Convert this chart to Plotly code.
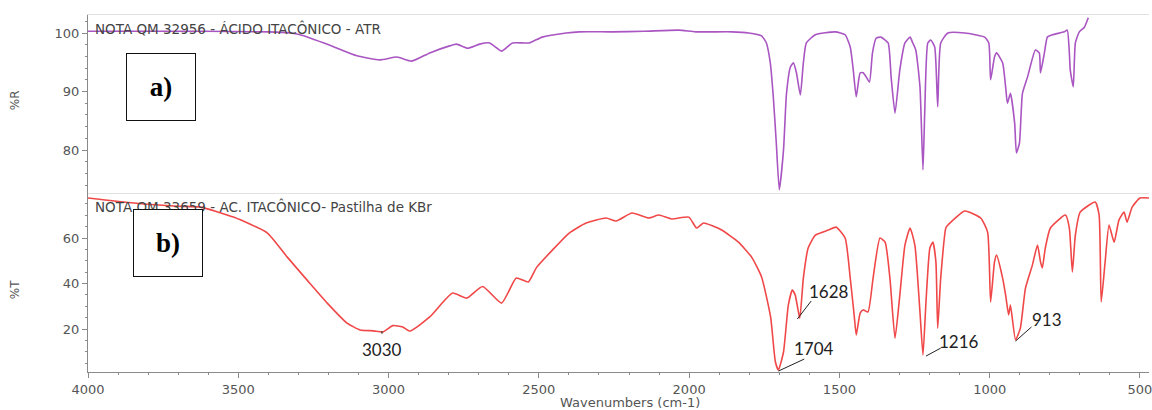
import plotly.graph_objects as go
from plotly.subplots import make_subplots

# ---- data: ATR spectrum (top, %R) ----
atr_wn = [4000, 3800, 3625, 3400, 3327, 3294, 3195, 3105, 3029, 2972, 2923, 2863, 2797, 2774, 2737,
          2697, 2664, 2624, 2588, 2532, 2489, 2409, 2366, 2257, 2150, 2034, 1978, 1859, 1802, 1759,
          1743, 1730, 1720, 1710, 1700, 1686, 1676, 1663, 1653, 1643, 1630, 1620, 1610, 1580, 1514,
          1481, 1464, 1454, 1444, 1431, 1421, 1411, 1400, 1390, 1378, 1362, 1338, 1328, 1315, 1299,
          1282, 1265, 1256, 1246, 1232, 1222, 1216, 1206, 1196, 1183, 1173, 1163, 1139, 1083, 1017,
          1003, 997, 984, 977, 957, 947, 941, 931, 917, 911, 901, 891, 874, 848, 835,
          831, 818, 808, 791, 752, 742, 735, 732, 722, 715, 702, 685, 672]
atr_r = [100.3, 100.3, 100.3, 100.2, 100.0, 99.7, 97.9, 96.1, 95.4, 95.9, 95.2, 96.6, 97.8, 98.1, 97.4,
         98.1, 98.3, 96.9, 98.3, 98.3, 99.3, 100.0, 100.2, 100.2, 100.3, 100.5, 100.2, 100.2, 100.0, 99.5,
         98.3, 94.9, 89.1, 81.2, 73.2, 80.0, 89.7, 94.2, 94.9, 93.2, 89.4, 94.9, 98.3, 99.7, 100.2,
         99.7, 97.6, 93.7, 89.1, 93.2, 93.2, 92.5, 91.6, 96.6, 99.1, 99.3, 98.3, 92.5, 86.3, 93.7,
         98.3, 99.3, 98.3, 97.1, 90.8, 76.6, 86.8, 98.3, 98.8, 97.6, 87.4, 98.3, 100.0, 100.0, 99.3,
         98.3, 92.0, 95.9, 96.6, 94.9, 90.8, 88.0, 89.7, 84.6, 79.5, 81.2, 89.7, 92.5, 97.1, 96.6,
         93.2, 96.6, 99.3, 99.7, 100.2, 100.5, 96.6, 93.7, 90.8, 98.3, 100.2, 101.0, 102.6]

# ---- data: KBr pellet spectrum (bottom, %T) ----
kbr_wn = [4000, 3848, 3700, 3625, 3516, 3403, 3337, 3271, 3204, 3138, 3095, 3050, 3019, 2986, 2953,
          2929, 2863, 2787, 2740, 2687, 2624, 2575, 2535, 2508, 2455, 2399, 2343, 2276, 2243, 2190,
          2134, 2101, 2058, 2001, 1975, 1952, 1892, 1836, 1792, 1759, 1729, 1713, 1703, 1686, 1670,
          1657, 1647, 1632, 1620, 1604, 1580, 1537, 1511, 1481, 1464, 1451, 1444, 1431, 1421, 1405,
          1388, 1365, 1348, 1332, 1315, 1299, 1282, 1265, 1249, 1232, 1222, 1212, 1199, 1189, 1179,
          1173, 1163, 1146, 1139, 1083, 1030, 1007, 997, 984, 977, 957, 947, 937, 931, 914,
          898, 881, 858, 841, 831, 825, 815, 798, 748, 735, 725, 715, 699, 649, 636,
          629, 616, 603, 586, 570, 553, 543, 526, 500, 470]
kbr_t = [77.6, 75.4, 74.0, 73.6, 69.2, 62.2, 51.6, 41.5, 31.4, 22.6, 19.6, 19.2, 18.7, 21.5, 20.9,
         19.1, 25.3, 35.8, 33.6, 38.7, 31.4, 42.4, 40.7, 47.0, 54.7, 62.2, 66.6, 68.8, 67.5, 71.0,
         68.8, 70.1, 68.4, 69.2, 64.4, 66.6, 63.5, 58.2, 51.6, 42.9, 25.3, 5.5, 2.0, 9.9, 30.5,
         37.1, 34.9, 24.8, 42.4, 55.6, 61.3, 63.5, 64.8, 60.0, 42.4, 26.2, 17.4, 27.0, 28.4, 27.5,
         42.4, 60.0, 58.2, 42.4, 16.0, 34.9, 56.9, 64.4, 56.9, 27.5, 8.6, 31.9, 55.6, 58.2, 49.5,
         20.4, 42.4, 64.4, 65.7, 71.9, 68.8, 62.6, 31.9, 49.5, 52.5, 42.4, 34.9, 26.2, 30.5, 15.2,
         20.4, 38.0, 48.1, 56.9, 49.5, 46.8, 55.6, 64.4, 70.1, 64.4, 45.1, 61.3, 71.4, 75.8, 70.1,
         31.9, 49.5, 65.7, 58.2, 67.9, 71.4, 67.0, 73.6, 77.6, 77.6]

# peak labels on bottom spectrum
peak_labels = ["3030", "1704", "1628", "1216", "913"]
peak_wn = [3022, 1703, 1640, 1212, 914]
peak_t = [19.1, 1.5, 24.4, 8.1, 14.7]
leader_wn = [3022, 1617, 1594, 1163, 861]
leader_t = [17.9, 6.8, 32.3, 11.6, 20.9]
text_wn = [3022, 1584, 1534, 1103, 811]
text_t = [10.8, 11.6, 36.3, 14.3, 24.0]

title_top = "NOTA QM 32956 - ÁCIDO ITACÔNICO - ATR"
title_bot = "NOTA QM 33659 - AC. ITACÔNICO- Pastilha de KBr"

PURPLE = "#a955c2"
RED = "#f04848"
AX = "#8a8a8a"
TXT = "#555555"

fig = make_subplots(rows=2, cols=1, shared_xaxes=True, vertical_spacing=0)
fig.add_trace(go.Scatter(x=atr_wn, y=atr_r, mode="lines",
                         line=dict(color=PURPLE, width=1.6, shape="spline", smoothing=0.5),
                         showlegend=False), row=1, col=1)
fig.add_trace(go.Scatter(x=kbr_wn, y=kbr_t, mode="lines",
                         line=dict(color=RED, width=1.6, shape="spline", smoothing=0.5),
                         showlegend=False), row=2, col=1)

tickfont = dict(family="DejaVu Sans", size=13, color=TXT)
fig.update_xaxes(range=[4000, 470], showgrid=False, zeroline=False)
fig.update_layout(
    width=1152, height=410,
    margin=dict(l=88, r=0, t=15, b=38),
    plot_bgcolor="white", paper_bgcolor="white",
    xaxis=dict(domain=[0, 1], showline=True, linecolor="#e2e2e2", mirror=True,
               showticklabels=False, ticks=""),
    yaxis=dict(domain=[0.5014, 1.0], range=[72.65, 103.08], tickvals=[80, 90, 100],
               showgrid=False, zeroline=False, showline=True, linecolor=AX, linewidth=1,
               ticks="outside", ticklen=5, tickcolor=AX, tickfont=tickfont,
               minor=dict(ticks="outside", ticklen=2, tickcolor=AX, dtick=2, tick0=0)),
    xaxis2=dict(domain=[0, 1], showline=True, linecolor=AX, linewidth=1,
                ticks="outside", ticklen=5, tickcolor=AX, tickfont=tickfont,
                ticklabeloverflow="allow",
                tickvals=[4000, 3500, 3000, 2500, 2000, 1500, 1000, 500],
                minor=dict(ticks="outside", ticklen=2, tickcolor=AX, dtick=100, tick0=0)),
    yaxis2=dict(domain=[0, 0.5014], range=[1.1, 79.8], tickvals=[20, 40, 60],
                showgrid=False, zeroline=False, showline=True, linecolor=AX, linewidth=1,
                ticks="outside", ticklen=5, tickcolor=AX, tickfont=tickfont,
                minor=dict(ticks="outside", ticklen=2, tickcolor=AX, dtick=5, tick0=0)),
)

ann = []
ann.append(dict(x=3983, y=100.85, xref="x", yref="y", text=title_top, showarrow=False,
                xanchor="left", yanchor="middle", font=dict(family="DejaVu Sans", size=13.5, color="#444")))
ann.append(dict(x=3983, y=73.8, xref="x2", yref="y2", text=title_bot, showarrow=False,
                xanchor="left", yanchor="middle", font=dict(family="DejaVu Sans", size=13.5, color="#444")))
ann.append(dict(x=3758, y=90.8, xref="x", yref="y", text="<b>a)</b>", showarrow=False,
                width=68, height=66, bordercolor="#111", borderwidth=1, borderpad=0, bgcolor="white",
                font=dict(family="Liberation Serif", size=27, color="#000")))
ann.append(dict(x=3735, y=57.8, xref="x2", yref="y2", text="<b>b)</b>", showarrow=False,
                width=68, height=66, bordercolor="#111", borderwidth=1, borderpad=0, bgcolor="white",
                font=dict(family="Liberation Serif", size=27, color="#000")))
ann.append(dict(x=-0.0686, y=0.762, xref="paper", yref="paper", text="%R", textangle=-90,
                showarrow=False, xanchor="center", yanchor="middle",
                font=dict(family="DejaVu Sans", size=12, color=TXT)))
ann.append(dict(x=-0.0686, y=0.2297, xref="paper", yref="paper", text="%T", textangle=-90,
                showarrow=False, xanchor="center", yanchor="middle",
                font=dict(family="DejaVu Sans", size=12, color=TXT)))
ann.append(dict(x=0.511, y=-0.0868, xref="paper", yref="paper", text="Wavenumbers (cm-1)",
                showarrow=False, xanchor="center", yanchor="middle",
                font=dict(family="DejaVu Sans", size=13, color=TXT)))

shapes = []
for lab, pw, pt, lw, lt, tw, tt in zip(peak_labels, peak_wn, peak_t, leader_wn, leader_t, text_wn, text_t):
    shapes.append(dict(type="line", xref="x2", yref="y2", x0=pw, y0=pt, x1=lw, y1=lt,
                       line=dict(color="#222", width=1)))
    ann.append(dict(x=tw, y=tt, xref="x2", yref="y2", text=lab, showarrow=False,
                    font=dict(family="Lato", size=17, color="#222")))

fig.update_layout(annotations=ann, shapes=shapes)
fig.write_html("out.html")
